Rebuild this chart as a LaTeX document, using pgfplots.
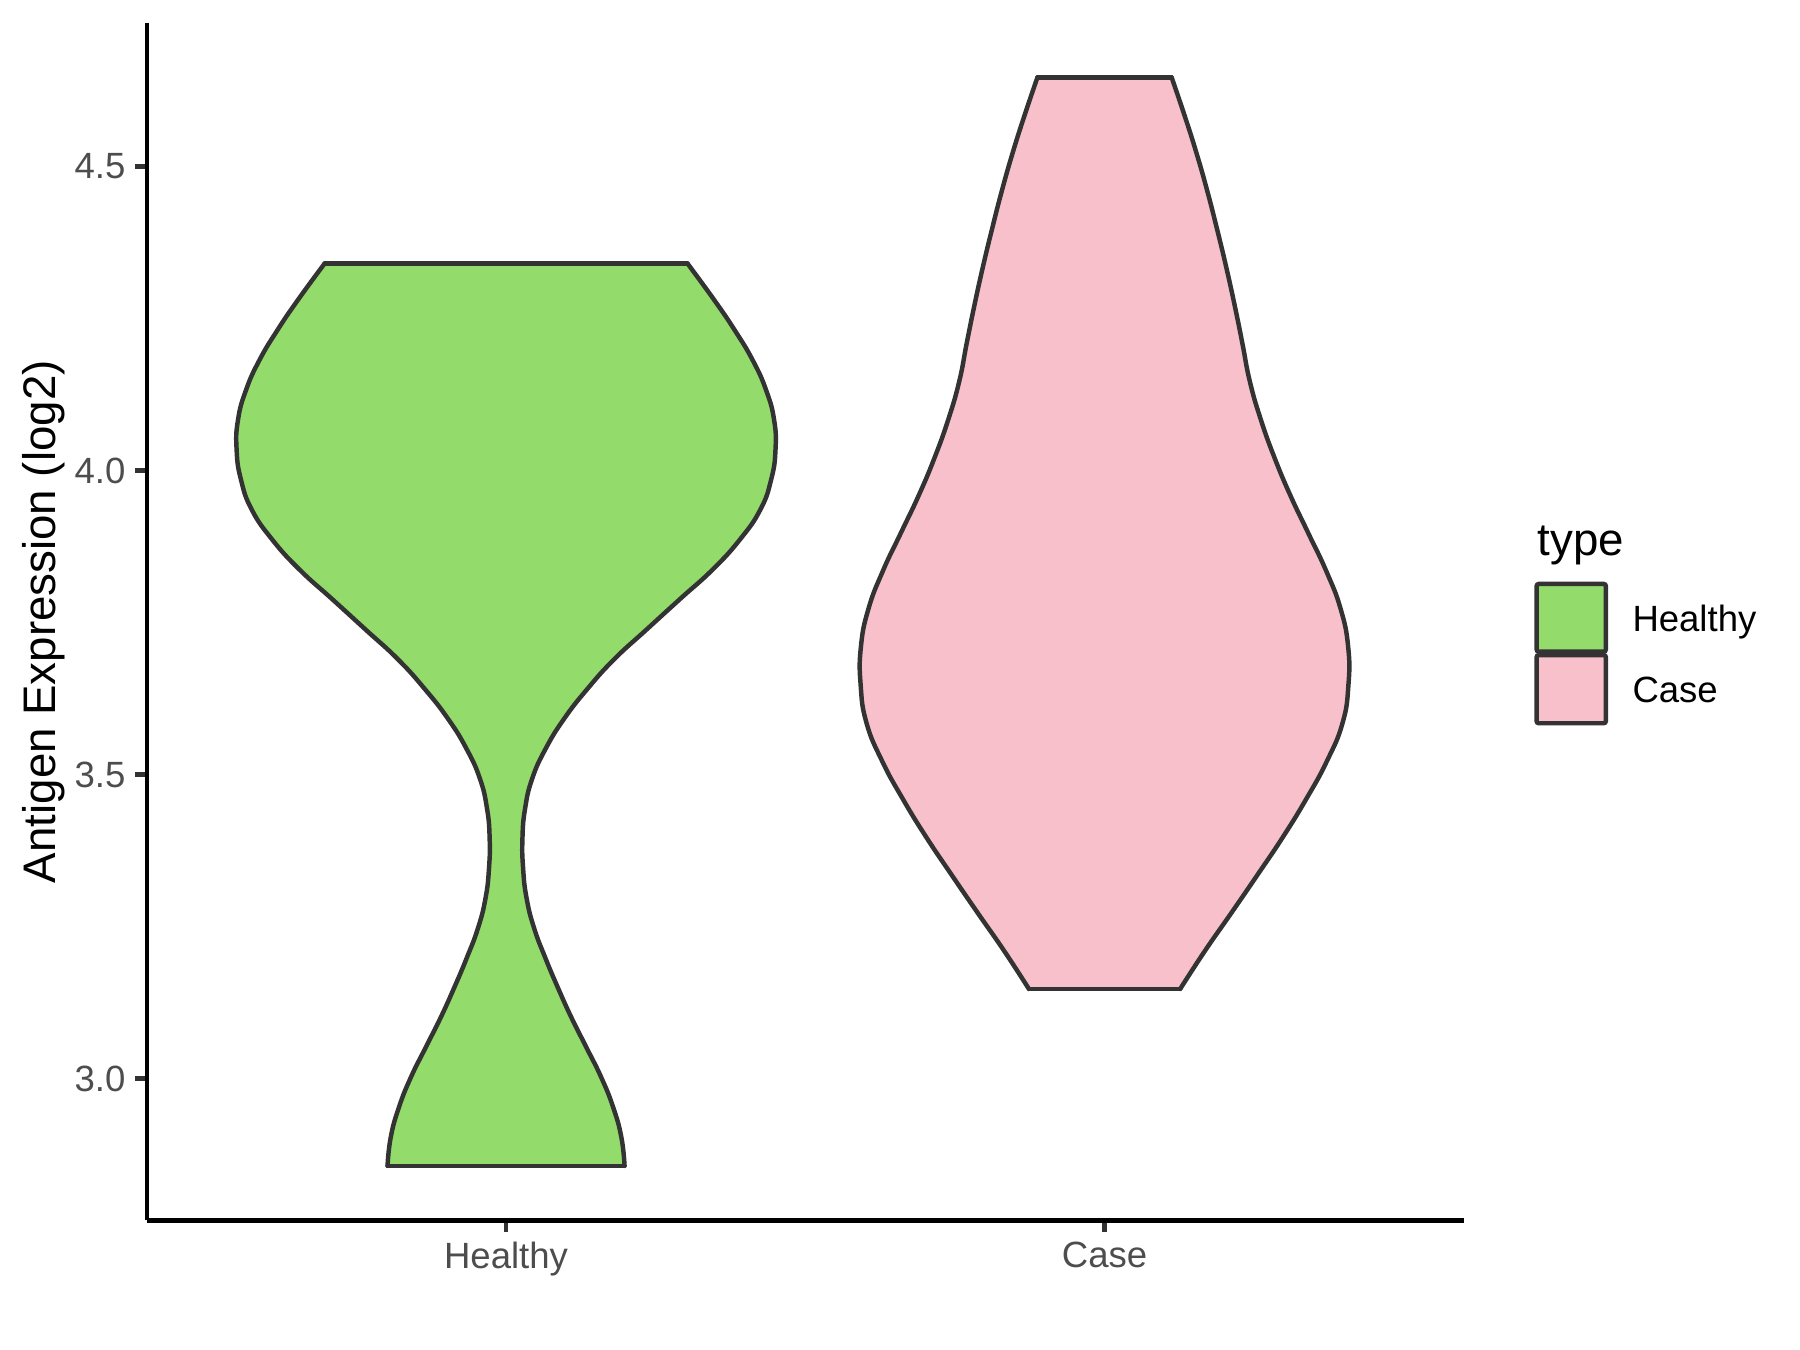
\documentclass[border=0pt]{standalone}
\usepackage{fontspec}
\setmainfont{Liberation Sans}
\usepackage{pgfplots}
\pgfplotsset{compat=1.18}
\definecolor{hgreen}{HTML}{93DB6B}
\definecolor{cpink}{HTML}{F7C0CB}
\definecolor{outl}{HTML}{333333}
\definecolor{grayA}{HTML}{4D4D4D}
\definecolor{grayB}{HTML}{333333}
\begin{document}
\begin{tikzpicture}[x=1bp,y=1bp]
\path[use as bounding box] (0,0) rectangle (432,324);
\begin{axis}[
  at={(35.27bp,31.13bp)}, anchor=south west,
  scale only axis, width=316bp, height=287.36bp,
  xmin=0.4, xmax=2.6, ymin=2.7672, ymax=4.736,
  axis x line=bottom, axis y line=left,
  axis line style={line width=1.07bp, black, -},
  xtick={1,2}, xticklabels={Healthy,Case},
  ytick={3,3.5,4,4.5}, yticklabels={3.0,3.5,4.0,4.5},
  tick align=outside, major tick length=2.75bp,
  tick style={line width=1.07bp, grayB},
  ticklabel style={font=\fontsize{8.8}{10}\selectfont, text=grayA},
  xticklabel style={yshift=1.1bp},
  yticklabel style={xshift=1.1bp},
  /pgf/number format/assume math mode=true,
  ylabel={Antigen Expression (log2)},
  ylabel style={font=\fontsize{11}{13}\selectfont, at={(axis description cs:-0.0787,0.5)}, anchor=center},
  clip=false,
  violine/.style={draw=outl, line width=1.07bp, line cap=round, line join=round},
  vsmooth/.style={smooth, tension=0.8},
]
% ---------- Healthy violin ----------
\addplot[fill=hgreen, draw=none] coordinates {
(1.1980,2.8567)(1.1927,2.9036)(1.1791,2.9527)(1.1592,3.0019)(1.1345,3.0510)(1.1094,3.1002)
(1.0868,3.1493)(1.0657,3.1985)(1.0469,3.2476)(1.0343,3.2968)(1.0285,3.3459)(1.0274,3.3951)
(1.0318,3.4442)(1.0437,3.4934)(1.0661,3.5425)(1.0969,3.5917)(1.1358,3.6408)(1.1810,3.6900)
(1.2354,3.7391)(1.2902,3.7883)(1.3454,3.8374)(1.3908,3.8866)(1.4249,3.9357)(1.4429,3.9849)
(1.4502,4.0340)(1.4479,4.0832)(1.4345,4.1323)(1.4121,4.1815)(1.3822,4.2306)(1.3483,4.2798)
(1.3033,4.3403)
(0.6967,4.3403)(0.6517,4.2798)(0.6178,4.2306)(0.5879,4.1815)(0.5655,4.1323)(0.5521,4.0832)
(0.5498,4.0340)(0.5571,3.9849)(0.5751,3.9357)(0.6092,3.8866)(0.6546,3.8374)(0.7098,3.7883)
(0.7646,3.7391)(0.8190,3.6900)(0.8642,3.6408)(0.9031,3.5917)(0.9339,3.5425)(0.9563,3.4934)
(0.9682,3.4442)(0.9726,3.3951)(0.9715,3.3459)(0.9657,3.2968)(0.9531,3.2476)(0.9343,3.1985)
(0.9132,3.1493)(0.8906,3.1002)(0.8655,3.0510)(0.8408,3.0019)(0.8209,2.9527)(0.8073,2.9036)
(0.8020,2.8567)
} -- cycle;
\addplot[violine, vsmooth] coordinates {
(1.1980,2.8567)(1.1927,2.9036)(1.1791,2.9527)(1.1592,3.0019)(1.1345,3.0510)(1.1094,3.1002)
(1.0868,3.1493)(1.0657,3.1985)(1.0469,3.2476)(1.0343,3.2968)(1.0285,3.3459)(1.0274,3.3951)
(1.0318,3.4442)(1.0437,3.4934)(1.0661,3.5425)(1.0969,3.5917)(1.1358,3.6408)(1.1810,3.6900)
(1.2354,3.7391)(1.2902,3.7883)(1.3454,3.8374)(1.3908,3.8866)(1.4249,3.9357)(1.4429,3.9849)
(1.4502,4.0340)(1.4479,4.0832)(1.4345,4.1323)(1.4121,4.1815)(1.3822,4.2306)(1.3483,4.2798)
(1.3033,4.3403)
};
\addplot[violine, vsmooth] coordinates {
(0.6967,4.3403)(0.6517,4.2798)(0.6178,4.2306)(0.5879,4.1815)(0.5655,4.1323)(0.5521,4.0832)
(0.5498,4.0340)(0.5571,3.9849)(0.5751,3.9357)(0.6092,3.8866)(0.6546,3.8374)(0.7098,3.7883)
(0.7646,3.7391)(0.8190,3.6900)(0.8642,3.6408)(0.9031,3.5917)(0.9339,3.5425)(0.9563,3.4934)
(0.9682,3.4442)(0.9726,3.3951)(0.9715,3.3459)(0.9657,3.2968)(0.9531,3.2476)(0.9343,3.1985)
(0.9132,3.1493)(0.8906,3.1002)(0.8655,3.0510)(0.8408,3.0019)(0.8209,2.9527)(0.8073,2.9036)
(0.8020,2.8567)
};
\addplot[violine] coordinates {(1.3033,4.3403) (0.6967,4.3403)};
\addplot[violine] coordinates {(0.8020,2.8567) (1.1980,2.8567)};
% ---------- Case violin ----------
\addplot[fill=cpink, draw=none] coordinates {
(2.1264,3.1476)(2.1676,3.2100)(2.2119,3.2726)(2.2554,3.3350)(2.2981,3.3975)(2.3370,3.4599)
(2.3716,3.5223)(2.3977,3.5849)(2.4075,3.6473)(2.4071,3.7098)(2.3946,3.7722)(2.3705,3.8346)
(2.3404,3.8972)(2.3103,3.9595)(2.2837,4.0219)(2.2609,4.0845)(2.2427,4.1469)(2.2303,4.2093)
(2.2174,4.2718)(2.2034,4.3342)(2.1881,4.3966)(2.1718,4.4592)(2.1538,4.5215)(2.1337,4.5839)
(2.1121,4.6465)
(1.8879,4.6465)(1.8663,4.5839)(1.8462,4.5215)(1.8282,4.4592)(1.8119,4.3966)(1.7966,4.3342)
(1.7826,4.2718)(1.7697,4.2093)(1.7573,4.1469)(1.7391,4.0845)(1.7163,4.0219)(1.6897,3.9595)
(1.6596,3.8972)(1.6295,3.8346)(1.6054,3.7722)(1.5929,3.7098)(1.5925,3.6473)(1.6023,3.5849)
(1.6284,3.5223)(1.6630,3.4599)(1.7019,3.3975)(1.7446,3.3350)(1.7881,3.2726)(1.8324,3.2100)
(1.8736,3.1476)
} -- cycle;
\addplot[violine, vsmooth] coordinates {
(2.1264,3.1476)(2.1676,3.2100)(2.2119,3.2726)(2.2554,3.3350)(2.2981,3.3975)(2.3370,3.4599)
(2.3716,3.5223)(2.3977,3.5849)(2.4075,3.6473)(2.4071,3.7098)(2.3946,3.7722)(2.3705,3.8346)
(2.3404,3.8972)(2.3103,3.9595)(2.2837,4.0219)(2.2609,4.0845)(2.2427,4.1469)(2.2303,4.2093)
(2.2174,4.2718)(2.2034,4.3342)(2.1881,4.3966)(2.1718,4.4592)(2.1538,4.5215)(2.1337,4.5839)
(2.1121,4.6465)
};
\addplot[violine, vsmooth] coordinates {
(1.8879,4.6465)(1.8663,4.5839)(1.8462,4.5215)(1.8282,4.4592)(1.8119,4.3966)(1.7966,4.3342)
(1.7826,4.2718)(1.7697,4.2093)(1.7573,4.1469)(1.7391,4.0845)(1.7163,4.0219)(1.6897,3.9595)
(1.6596,3.8972)(1.6295,3.8346)(1.6054,3.7722)(1.5929,3.7098)(1.5925,3.6473)(1.6023,3.5849)
(1.6284,3.5223)(1.6630,3.4599)(1.7019,3.3975)(1.7446,3.3350)(1.7881,3.2726)(1.8324,3.2100)
(1.8736,3.1476)
};
\addplot[violine] coordinates {(2.1121,4.6465) (1.8879,4.6465)};
\addplot[violine] coordinates {(1.8736,3.1476) (2.1264,3.1476)};
\end{axis}
% legend
\node[anchor=base west, inner sep=0pt, font=\fontsize{11}{13}\selectfont] at (368.8,190.79) {type};
\draw[outl, line width=1.07bp, fill=hgreen, rounded corners=0.5bp] (368.8,167.62) rectangle (385.4,183.85);
\draw[outl, line width=1.07bp, fill=cpink, rounded corners=0.5bp] (368.8,150.42) rectangle (385.4,166.79);
\node[anchor=base west, inner sep=0pt, font=\fontsize{8.8}{10}\selectfont] at (391.6,172.42) {Healthy};
\node[anchor=base west, inner sep=0pt, font=\fontsize{8.8}{10}\selectfont] at (391.6,155.36) {Case};
\end{tikzpicture}
\end{document}
